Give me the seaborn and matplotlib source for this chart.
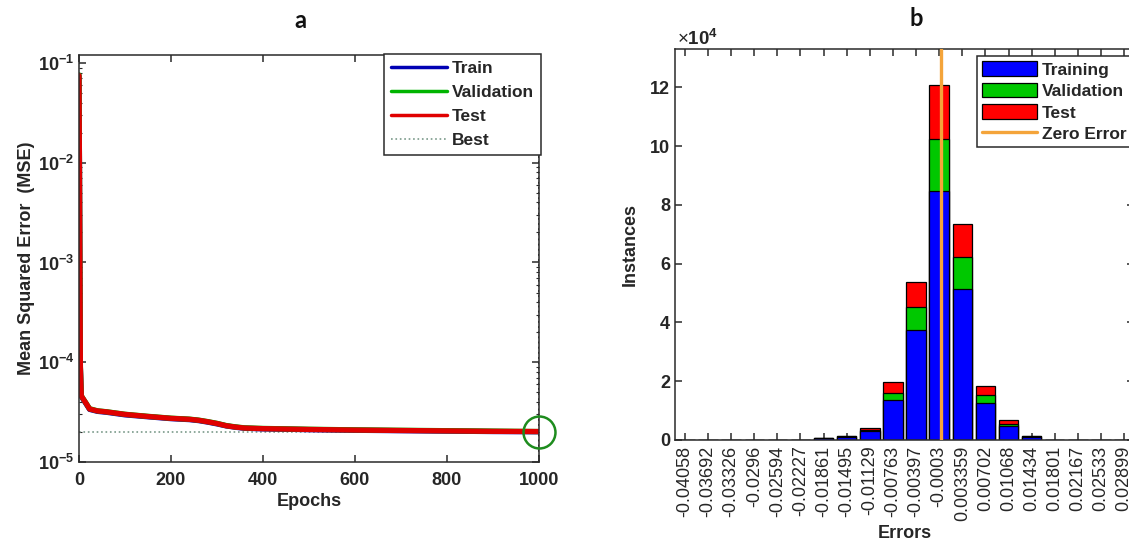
import numpy as np
import pandas as pd
import matplotlib
matplotlib.use("Agg")
import matplotlib.pyplot as plt
from matplotlib.ticker import FixedLocator, FuncFormatter, LogLocator
from matplotlib.lines import Line2D
from matplotlib.patches import Patch
import seaborn as sns

# ---------------- data: panel a (training performance) ----------------
epochs = [0, 1, 2, 3, 5, 9, 15, 23, 40, 60, 100, 150, 200, 240, 260, 280, 300,
          320, 340, 360, 400, 500, 600, 700, 800, 900, 1000]
train_mse = [0.074, 0.0088, 0.00068, 0.000088, 0.0000455, 0.0000425, 0.0000385,
             0.0000337, 0.0000322, 0.0000315, 0.0000297, 0.0000284, 0.0000272,
             0.0000266, 0.000026, 0.0000251, 0.0000241, 0.000023, 0.0000223,
             0.0000218, 0.0000215, 0.0000211, 0.0000208, 0.0000206, 0.0000204,
             0.0000202, 0.0000201]
val_mse = [0.076, 0.0091, 0.0007, 0.00009, 0.0000462, 0.0000431, 0.0000391,
           0.0000342, 0.0000326, 0.0000319, 0.0000301, 0.0000287, 0.0000275,
           0.0000269, 0.0000263, 0.0000254, 0.0000244, 0.0000232, 0.0000225,
           0.000022, 0.0000217, 0.0000213, 0.000021, 0.0000208, 0.0000206,
           0.0000204, 0.0000202]
test_mse = [0.075, 0.009, 0.0007, 0.00009, 0.000046, 0.000043, 0.000039,
            0.000034, 0.0000325, 0.0000318, 0.00003, 0.0000286, 0.0000274,
            0.0000268, 0.0000262, 0.0000253, 0.0000243, 0.0000231, 0.0000224,
            0.0000219, 0.0000216, 0.0000212, 0.0000209, 0.0000207, 0.0000205,
            0.0000203, 0.0000202]
best_epoch = 1000
best_mse = 2.02e-5
epoch_ticks = [0, 200, 400, 600, 800, 1000]
mse_ticks = [1e-5, 1e-4, 1e-3, 1e-2, 1e-1]

# ---------------- data: panel b (error histogram) ----------------
bin_labels = ["-0.04058", "-0.03692", "-0.03326", "-0.0296", "-0.02594",
              "-0.02227", "-0.01861", "-0.01495", "-0.01129", "-0.00763",
              "-0.00397", "-0.0003", "0.003359", "0.00702", "0.01068",
              "0.01434", "0.01801", "0.02167", "0.02533", "0.02899"]
train_counts = [0, 0, 0, 0, 0, 0, 600, 1000, 3000, 13600, 37400, 84700,
                51500, 12700, 4700, 1000, 0, 0, 0, 0]
val_counts = [0, 0, 0, 0, 0, 0, 100, 200, 500, 2400, 8000, 17700,
              10900, 2700, 900, 200, 0, 0, 0, 0]
test_counts = [0, 0, 0, 0, 0, 0, 100, 200, 700, 3600, 8500, 18200,
               11100, 2800, 1200, 200, 0, 0, 0, 0]
count_ticks = [0, 20000, 40000, 60000, 80000, 100000, 120000]

# ---------------- style ----------------
sns.set_theme(style="ticks")
plt.rcParams["font.family"] = ["Liberation Sans", "DejaVu Sans"]
plt.rcParams["mathtext.fontset"] = "custom"
plt.rcParams["mathtext.rm"] = "Liberation Sans"
plt.rcParams["mathtext.bf"] = "Liberation Sans:bold"
plt.rcParams["mathtext.default"] = "bf"
plt.rcParams["axes.edgecolor"] = "#2a2a2a"
plt.rcParams["axes.linewidth"] = 1.1

W, H = 1129, 545
fig = plt.figure(figsize=(W / 100, H / 100), dpi=100)
fig.patch.set_facecolor("white")


def fx(px):
    return px / W


def fy(py):
    return 1 - py / H


# ================= panel a =================
axa = fig.add_axes([fx(79), fy(462), fx(539) - fx(79), fy(55) - fy(462)])
df_a = pd.DataFrame({"epoch": epochs, "Train": train_mse,
                     "Validation": val_mse, "Test": test_mse})
sns.lineplot(data=df_a, x="epoch", y="Train", color="#0000b4", lw=3.8, ax=axa)
sns.lineplot(data=df_a, x="epoch", y="Validation", color="#00b400", lw=3.8, ax=axa)
sns.lineplot(data=df_a, x="epoch", y="Test", color="#e00000", lw=3.8, ax=axa)
axa.axhline(best_mse, ls=":", color="#7a9a8a", lw=1.2, zorder=1)
axa.axvline(best_epoch, ls=":", color="#333333", lw=1.4, zorder=1)
axa.plot([best_epoch], [best_mse], "o", mfc="none", mec="#1e8c1e", ms=23,
         mew=1.8, clip_on=False, zorder=5)
axa.set_yscale("log")
axa.set_xlim(0, 1000)
axa.set_ylim(1e-5, 10 ** -0.92)
axa.xaxis.set_major_locator(FixedLocator(epoch_ticks))
axa.yaxis.set_major_locator(FixedLocator(mse_ticks))
axa.yaxis.set_minor_locator(LogLocator(base=10, subs=np.arange(2, 10)))
axa.yaxis.set_minor_formatter(plt.NullFormatter())
axa.tick_params(which="both", direction="in", top=True, right=True,
                colors="#2a2a2a", labelcolor="#262626")
axa.tick_params(which="major", length=5, width=1.1, labelsize=13)
axa.tick_params(axis="x", pad=7)
axa.tick_params(which="minor", length=2.5, width=0.8)
for lab in axa.get_xticklabels() + axa.get_yticklabels():
    lab.set_fontweight("bold")
axa.set_xlabel("Epochs", fontsize=13, fontweight="bold", color="#262626",
               labelpad=3)
axa.set_ylabel("Mean Squared Error  (MSE)", fontsize=13, fontweight="bold",
               color="#262626", labelpad=2)
handles_a = [Line2D([], [], color="#0000b4", lw=2.5),
             Line2D([], [], color="#00b400", lw=2.5),
             Line2D([], [], color="#e00000", lw=2.5),
             Line2D([], [], color="#7a9a8a", lw=1.2, ls=":")]
leg_a = axa.legend(handles_a, ["Train", "Validation", "Test", "Best"],
                   loc="upper right", bbox_to_anchor=(fx(541), fy(54)),
                   bbox_transform=fig.transFigure, borderaxespad=0,
                   fancybox=False, edgecolor="#2a2a2a", framealpha=1,
                   handlelength=3.2, handletextpad=0.3, labelspacing=0.5,
                   borderpad=0.4, prop={"weight": "bold", "size": 12.5})
leg_a.get_frame().set_linewidth(1.1)
fig.text(fx(300), fy(20), "a", ha="center", va="center", fontsize=17,
         fontweight="bold", family=["Lato", "DejaVu Sans"], color="#111111")

# ================= panel b =================
axb = fig.add_axes([fx(675), fy(440), fx(1134) - fx(675), fy(49) - fy(440)])
tot_val = [t + v for t, v in zip(train_counts, val_counts)]
tot_all = [t + v + s for t, v, s in zip(train_counts, val_counts, test_counts)]
df_b = pd.DataFrame({"bin": bin_labels, "train": train_counts,
                     "train_val": tot_val, "total": tot_all})
common = dict(x="bin", order=bin_labels, width=0.84, edgecolor="black",
              linewidth=0.9, ax=axb, saturation=1)
sns.barplot(data=df_b, y="total", color="#ff0000", **common)
sns.barplot(data=df_b, y="train_val", color="#00c800", **common)
sns.barplot(data=df_b, y="train", color="#0000ff", **common)
centers = [float(s) for s in bin_labels]
zero_pos = float(np.interp(0.0, centers, np.arange(len(centers))))
axb.axvline(zero_pos, color="#f4a43a", lw=2.4, zorder=6)
axb.set_xlim(-0.43, len(bin_labels) - 1 + 0.43)
axb.set_ylim(0, 133000)
axb.yaxis.set_major_locator(FixedLocator(count_ticks))
axb.yaxis.set_major_formatter(FuncFormatter(lambda v, p: f"{v / 1e4:.0f}"))
axb.tick_params(which="both", direction="in", top=True, right=True,
                colors="#2a2a2a", labelcolor="#262626", length=5, width=1.1)
axb.tick_params(axis="y", labelsize=13)
axb.tick_params(axis="x", labelsize=13, labelrotation=90, pad=4)
for lab in axb.get_yticklabels():
    lab.set_fontweight("bold")
for lab in axb.get_xticklabels():
    lab.set_fontweight("normal")
axb.set_xlabel("Errors", fontsize=13, fontweight="bold", color="#262626",
               labelpad=3)
axb.set_ylabel("Instances", fontsize=13, fontweight="bold", color="#262626",
               labelpad=8)
fig.text(fx(677), fy(39), r"$\mathrm{\times}\mathbf{10^4}$", ha="left",
         va="center", fontsize=13.5, color="#262626")
handles_b = [Patch(facecolor="#0000ff", edgecolor="black", lw=0.9),
             Patch(facecolor="#00c800", edgecolor="black", lw=0.9),
             Patch(facecolor="#ff0000", edgecolor="black", lw=0.9),
             Line2D([], [], color="#f4a43a", lw=2.4)]
leg_b = axb.legend(handles_b, ["Training", "Validation", "Test", "Zero Error"],
                   loc="upper left", bbox_to_anchor=(fx(977), fy(56)),
                   bbox_transform=fig.transFigure, borderaxespad=0,
                   fancybox=False, edgecolor="#2a2a2a", framealpha=1,
                   handlelength=3.15, handleheight=0.92, handletextpad=0.3,
                   labelspacing=0.3, borderpad=0.3,
                   prop={"weight": "bold", "size": 12.5})
leg_b.get_frame().set_linewidth(1.1)
fig.text(fx(916), fy(18), "b", ha="center", va="center", fontsize=17,
         fontweight="bold", family=["Lato", "DejaVu Sans"], color="#111111")

fig.savefig("out.png", dpi=100)
